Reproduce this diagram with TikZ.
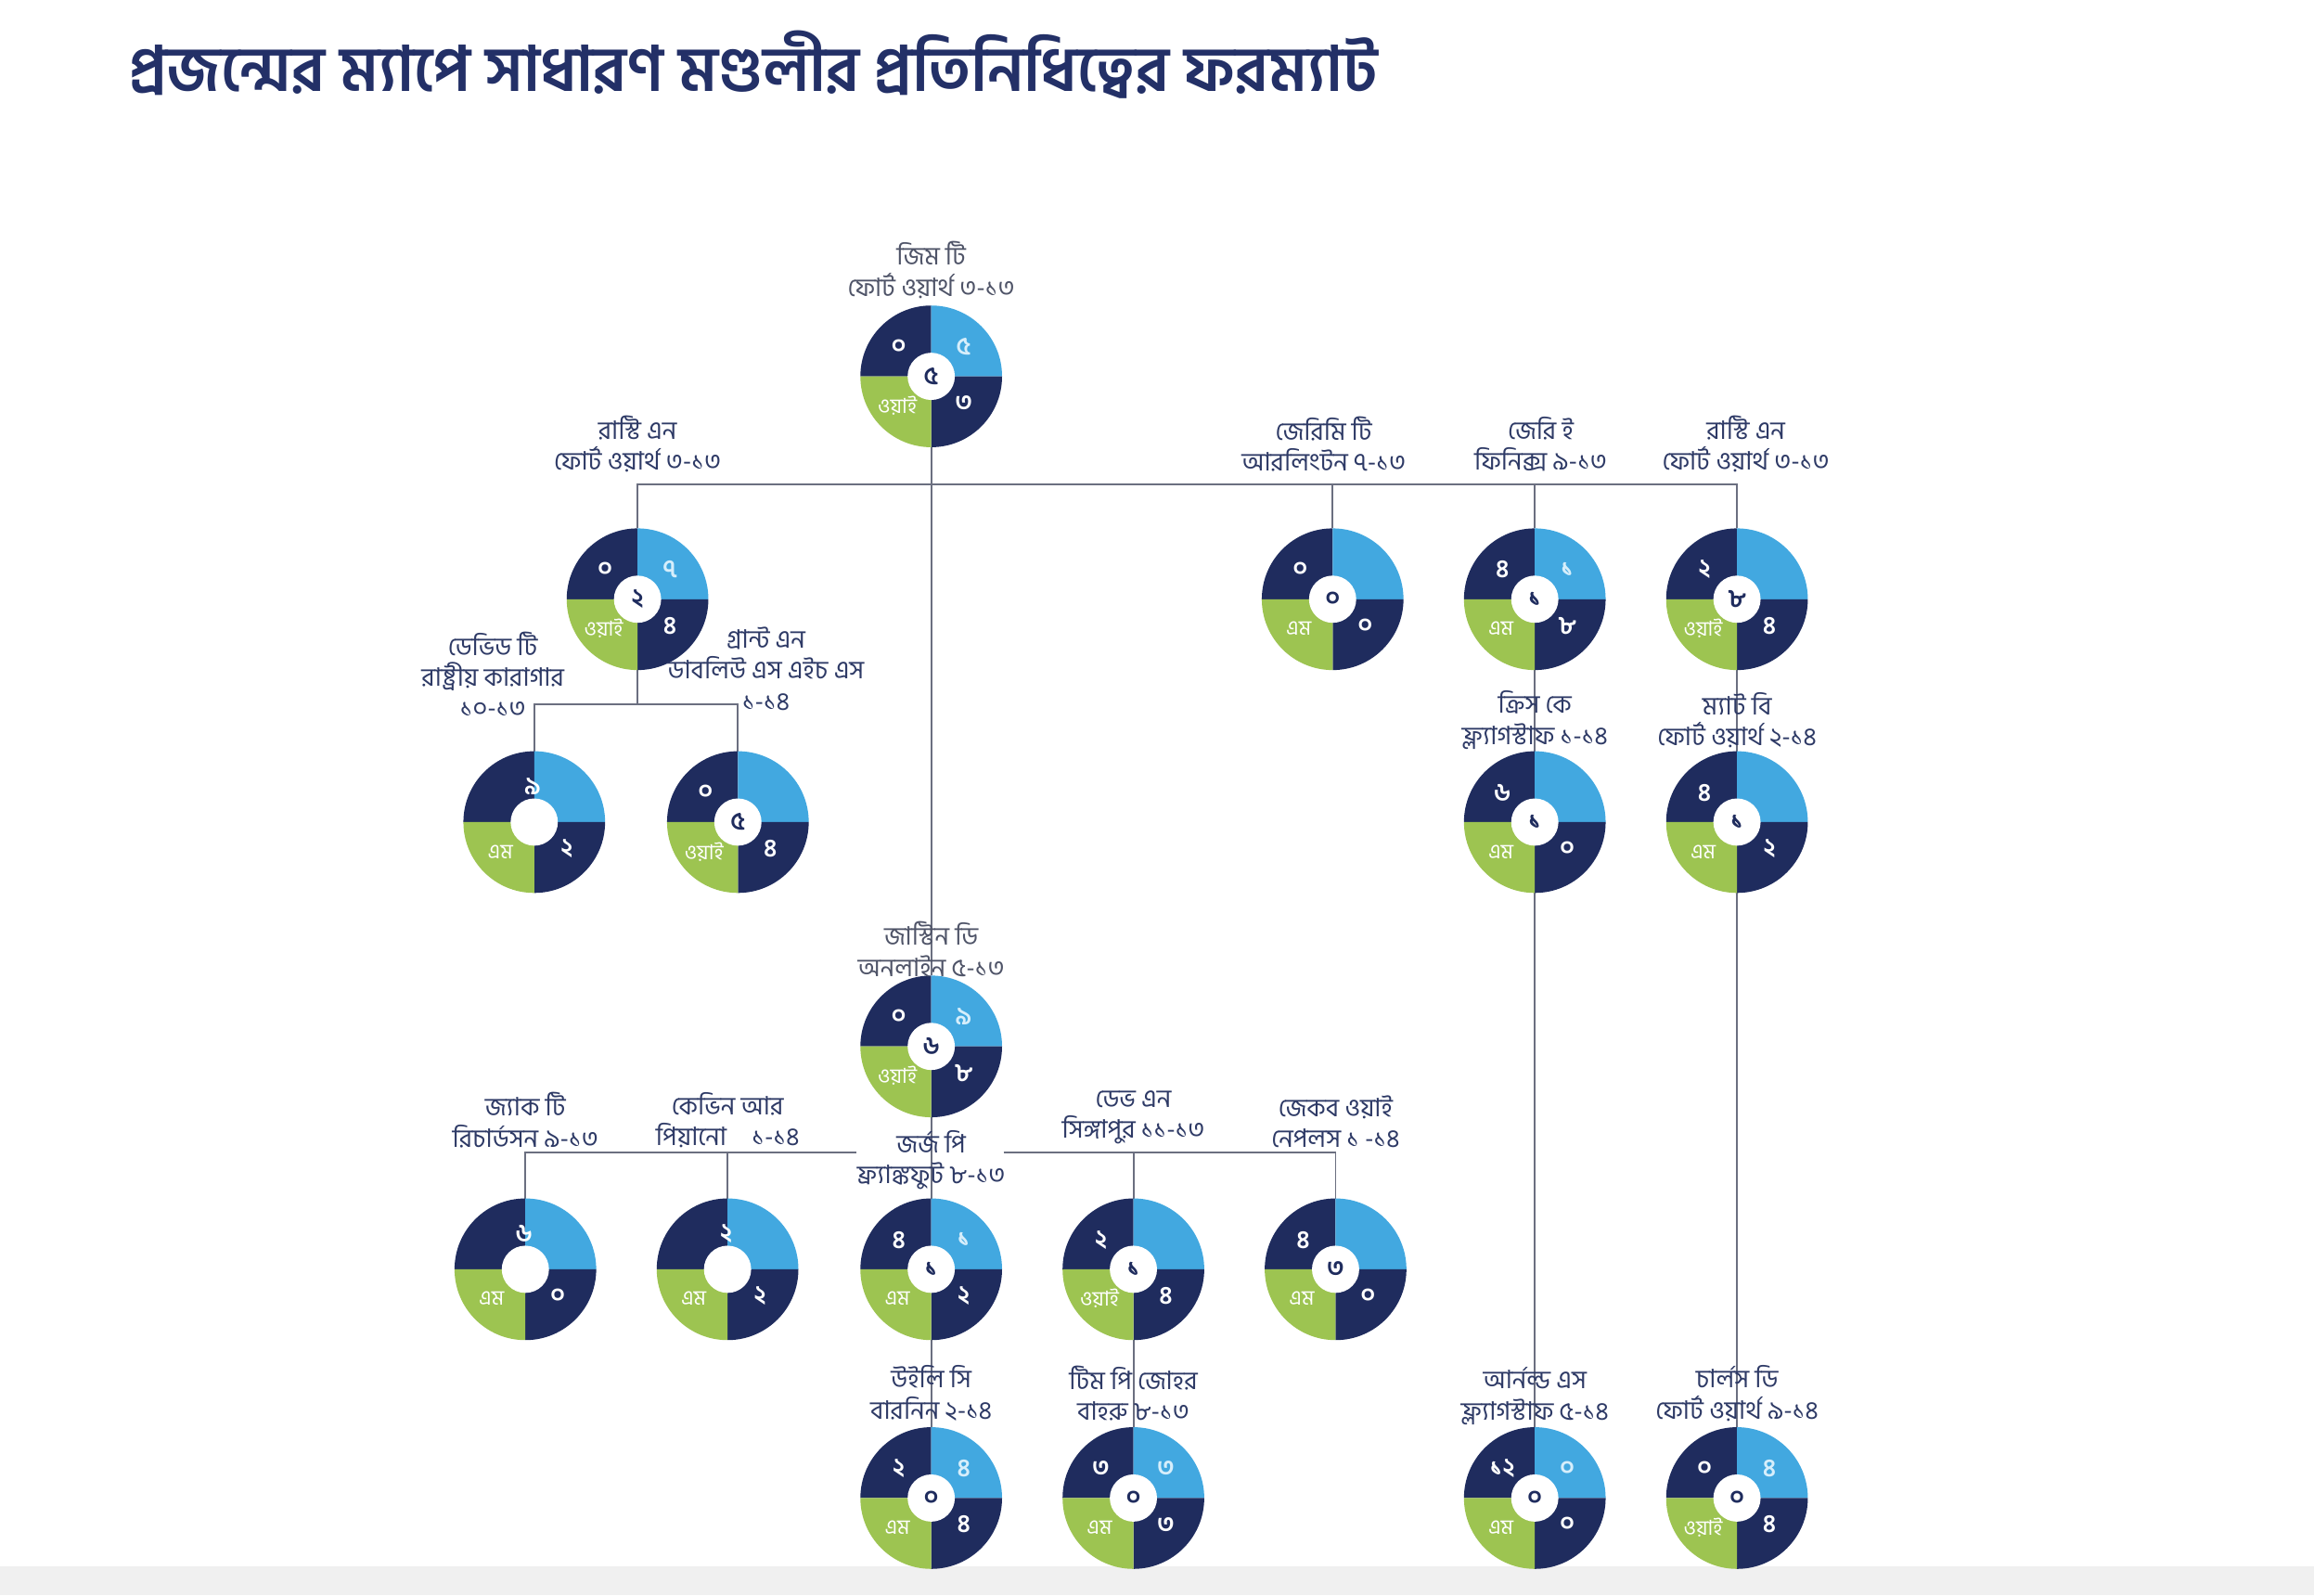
\documentclass[tikz,border=0pt]{standalone}
\usepackage{fontspec}
\newfontfamily\bn[Script=Bengali,WordSpace=1.6]{Hind Siliguri}
\newfontfamily\bntitle[Script=Bengali]{Hind Siliguri}
\definecolor{navy}{HTML}{1F2C5E}
\definecolor{skyq}{HTML}{42A8E0}
\definecolor{greenq}{HTML}{9DC451}
\definecolor{titlecol}{HTML}{233067}
\definecolor{labcol}{HTML}{2E3A66}
\definecolor{labgray}{HTML}{4F5468}
\definecolor{linecol}{HTML}{6B6F80}
\definecolor{paleq}{HTML}{D6EEFB}
\definecolor{bandgray}{HTML}{F0F0F0}
\newcommand\ringfill[7]{%
  \fill[navy] (#1.center) -- ++(90:24pt) arc[start angle=90,end angle=180,radius=24pt] -- cycle;
  \fill[skyq] (#1.center) -- ++(0:24pt) arc[start angle=0,end angle=90,radius=24pt] -- cycle;
  \fill[navy] (#1.center) -- ++(270:24pt) arc[start angle=270,end angle=360,radius=24pt] -- cycle;
  \fill[greenq] (#1.center) -- ++(180:24pt) arc[start angle=180,end angle=270,radius=24pt] -- cycle;
  \fill[white] (#1.center) circle[radius=8pt];
  \node[qd] at ([shift={(-22,-20)}]#1.center) {#2};
  \node[qb] at ([shift={(22,-20)}]#1.center) {#3};
  \node[qd] at ([shift={(22,18)}]#1.center) {#4};
  \node[qg] at ([shift={(-23,20)}]#1.center) {#5};
  \node[qc] at (#1.center) {#6};
  \node[qd] at ([shift={(-1,-24)}]#1.center) {#7};
}
\begin{document}
\begin{tikzpicture}[x=0.5pt,y=-0.5pt,
  ringnode/.style={circle,minimum size=48pt,inner sep=0pt,outer sep=0pt},
  qd/.style={font=\bn\bfseries\fontsize{8.5}{9}\selectfont,text=white,inner sep=0pt},
  qb/.style={font=\bn\bfseries\fontsize{8.5}{9}\selectfont,text=paleq,inner sep=0pt},
  qg/.style={font=\bn\fontsize{7}{8}\selectfont,text=white,inner sep=0pt},
  qc/.style={font=\bn\bfseries\fontsize{8.5}{9}\selectfont,text=navy,inner sep=0pt},
  lab/.style={font=\bn\fontsize{8.6}{10.5}\selectfont,text=labcol,align=center,inner sep=0pt},
  labg/.style={lab,text=labgray},
  conn/.style={draw=linecol,line width=0.6pt}]
\useasboundingbox (0,0) rectangle (1568,1081);
\fill[white] (0,0) rectangle (1568,1081);
\fill[bandgray] (0,1061) rectangle (1568,1081);
\node[anchor=base west,inner sep=0pt,text=titlecol,font=\bntitle\bfseries\fontsize{21.2}{24}\selectfont] (title) at (87,62) {প্রজন্মের ম্যাপে সাধারণ মণ্ডলীর প্রতিনিধিত্বের ফরম্যাট};
% ring nodes
\node[ringnode] (jim) at (631,255) {};
\node[ringnode] (rustyL) at (432,406) {};
\node[ringnode] (jeremy) at (903,406) {};
\node[ringnode] (jerry) at (1040,406) {};
\node[ringnode] (rustyR) at (1177,406) {};
\node[ringnode] (david) at (362,557) {};
\node[ringnode] (grant) at (500,557) {};
\node[ringnode] (chris) at (1040,557) {};
\node[ringnode] (matt) at (1177,557) {};
\node[ringnode] (justin) at (631,709) {};
\node[ringnode] (jack) at (356,860) {};
\node[ringnode] (kevin) at (493,860) {};
\node[ringnode] (george) at (631,860) {};
\node[ringnode] (dave) at (768,860) {};
\node[ringnode] (jakob) at (905,860) {};
\node[ringnode] (wiley) at (631,1015) {};
\node[ringnode] (tim) at (768,1015) {};
\node[ringnode] (arnold) at (1040,1015) {};
\node[ringnode] (charles) at (1177,1015) {};
% bar coordinates
\coordinate (barTop) at (631,328);
\coordinate (barMid) at (431,477);
\coordinate (gapL) at (580,781);
\coordinate (gapR) at (680,781);
% connectors
\draw[conn] (jim.south) -- (justin.north);
\draw[conn] (rustyL.north) -- (rustyL |- barTop) -- (rustyR |- barTop) -- (rustyR.north);
\draw[conn] (jeremy.north) -- (jeremy |- barTop);
\draw[conn] (jerry.north) -- (jerry |- barTop);
\draw[conn] (rustyL.south) -- (rustyL |- barMid);
\draw[conn] (david.north) -- (david |- barMid) -- (grant |- barMid) -- (grant.north);
\draw[conn] (jerry.south) -- (chris.north);
\draw[conn] (chris.south) -- (arnold.north);
\draw[conn] (rustyR.south) -- (matt.north);
\draw[conn] (matt.south) -- (charles.north);
\draw[conn] (justin.south) -- (george.north);
\draw[conn] (george.south) -- (wiley.north);
\draw[conn] (jack.north) -- (jack |- gapL) -- (gapL);
\draw[conn] (kevin.north) -- (kevin |- gapL);
\draw[conn] (gapR) -- (jakob |- gapR) -- (jakob.north);
\draw[conn] (dave.north) -- (dave |- gapR);
\draw[conn] (dave.south) -- (tim.north);
% rings
\ringfill{jim}{০}{৫}{৩}{ওয়াই}{৫}{}
\ringfill{rustyL}{০}{৭}{৪}{ওয়াই}{২}{}
\ringfill{jeremy}{০}{}{০}{এম}{০}{}
\ringfill{jerry}{৪}{১}{৮}{এম}{১}{}
\ringfill{rustyR}{২}{}{৪}{ওয়াই}{৮}{}
\ringfill{david}{}{}{২}{এম}{}{৯}
\ringfill{grant}{০}{}{৪}{ওয়াই}{৫}{}
\ringfill{chris}{৬}{}{০}{এম}{১}{}
\ringfill{matt}{৪}{}{২}{এম}{১}{}
\ringfill{justin}{০}{৯}{৮}{ওয়াই}{৬}{}
\ringfill{jack}{}{}{০}{এম}{}{৬}
\ringfill{kevin}{}{}{২}{এম}{}{২}
\ringfill{george}{৪}{১}{২}{এম}{১}{}
\ringfill{dave}{২}{}{৪}{ওয়াই}{১}{}
\ringfill{jakob}{৪}{}{০}{এম}{৩}{}
\ringfill{wiley}{২}{৪}{৪}{এম}{০}{}
\ringfill{tim}{৩}{৩}{৩}{এম}{০}{}
\ringfill{arnold}{১২}{০}{০}{এম}{০}{}
\ringfill{charles}{০}{৪}{৪}{ওয়াই}{০}{}
% labels
\node[labg] (jimL) at (631,183) {জিম টি\\ফোর্ট ওয়ার্থ ৩-১৩};
\node[lab] (rustyLL) at (432,301) {রাস্টি এন\\ফোর্ট ওয়ার্থ ৩-১৩};
\node[lab] (jeremyL) at (897,301) {জেরিমি টি\\আরলিংটন ৭-১৩};
\node[lab] (jerryL) at (1044,301) {জেরি ই\\ফিনিক্স ৯-১৩};
\node[lab] (rustyRL) at (1183,301) {রাস্টি এন\\ফোর্ট ওয়ার্থ ৩-১৩};
\node[lab] (davidL) at (334,457) {ডেভিড টি\\রাষ্ট্রীয় কারাগার\\১০-১৩};
\node[lab] (grantL) at (519,453) {গ্রান্ট এন\\ডাবলিউ এস এইচ এস\\১-১৪};
\node[lab] (chrisL) at (1040,488) {ক্রিস কে\\ফ্ল্যাগস্টাফ ১-১৪};
\node[lab] (mattL) at (1177,488) {ম্যাট বি\\ফোর্ট ওয়ার্থ ২-১৪};
\node[labg] (justinL) at (631,643) {জাস্টিন ডি\\অনলাইন ৫-১৩};
\node[lab] (jackL) at (356,759) {জ্যাক টি\\রিচার্ডসন ৯-১৩};
\node[lab] (kevinL) at (493,759) {কেভিন আর\\পিয়ানো\quad ১-১৪};
\node[lab] (georgeL) at (631,786) {জর্জ পি\\ফ্র্যাঙ্কফুট ৮-১৩};
\node[lab] (daveL) at (768,757) {ডেভ এন\\সিঙ্গাপুর ১১-১৩};
\node[lab] (jakobL) at (905,760) {জেকব ওয়াই\\নেপলস ১ -১৪};
\node[lab] (wileyL) at (631,944) {উইলি সি\\বারনিন ২-১৪};
\node[lab] (timL) at (768,944) {টিম পি জোহর\\বাহরু ৮-১৩};
\node[lab] (arnoldL) at (1040,946) {আর্নল্ড এস\\ফ্ল্যাগস্টাফ ৫-১৪};
\node[lab] (charlesL) at (1177,944) {চার্লস ডি\\ফোর্ট ওয়ার্থ ৯-১৪};
\end{tikzpicture}
\end{document}
